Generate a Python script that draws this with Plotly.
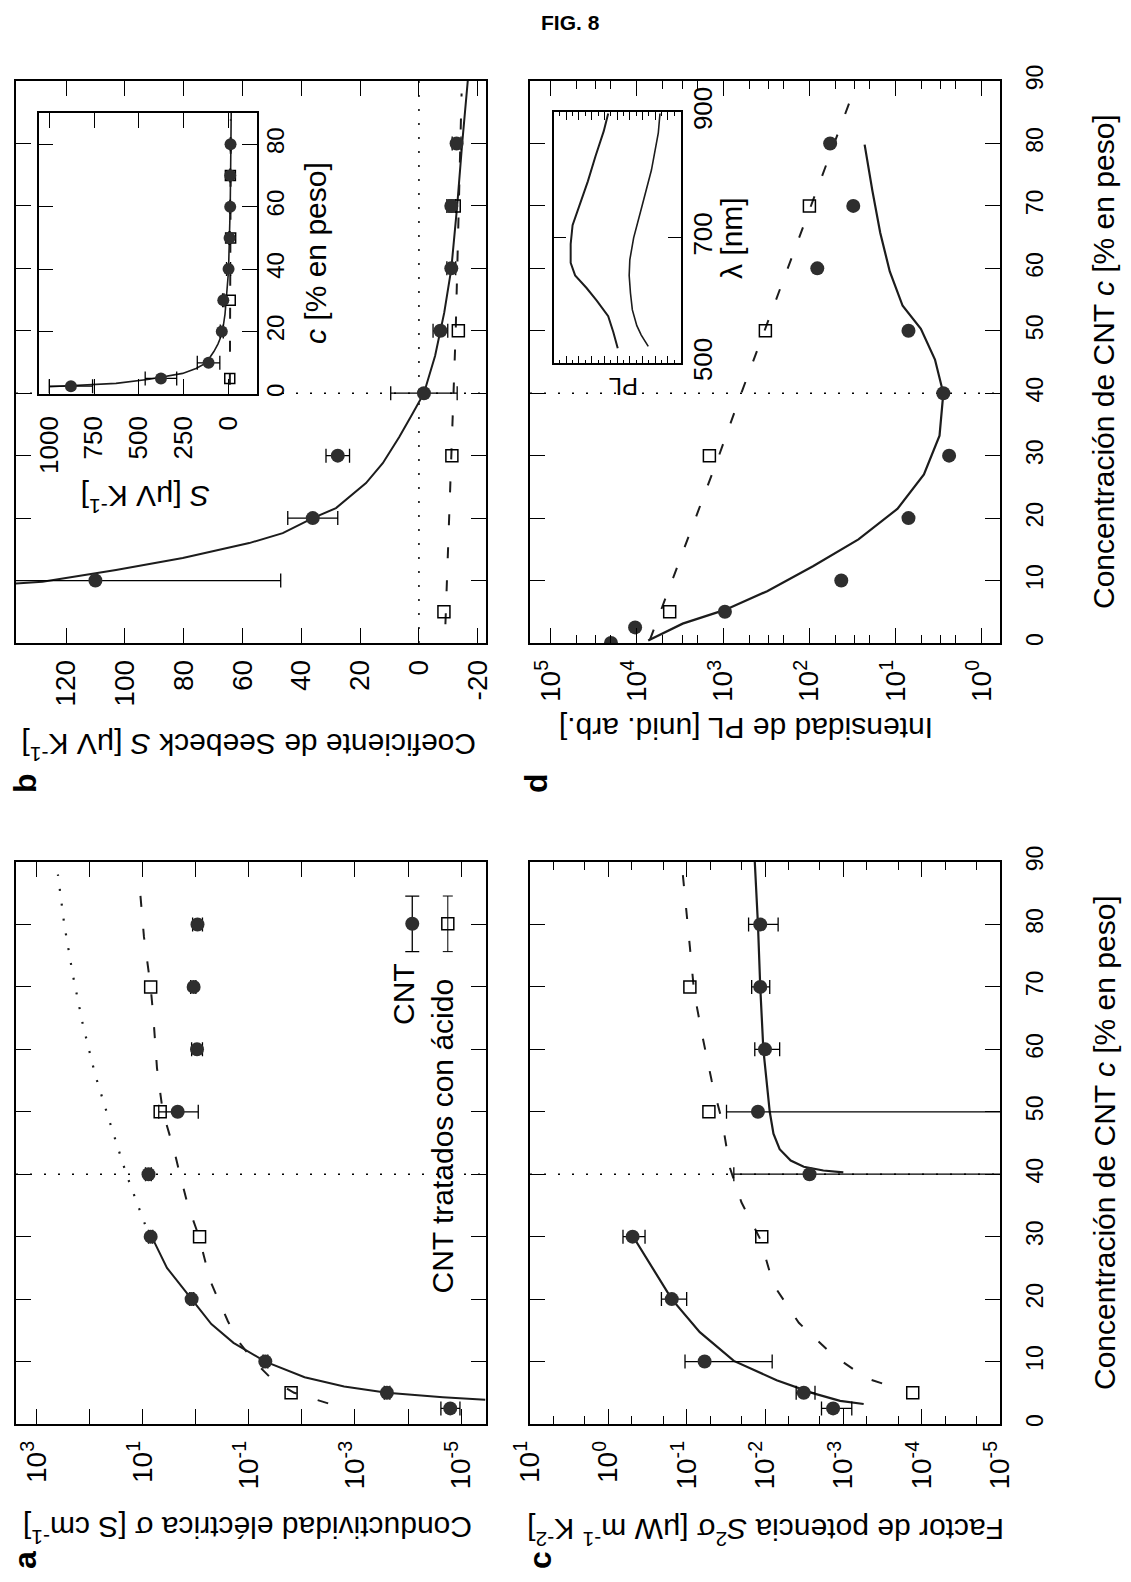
import plotly.graph_objects as go

W, H = 1131, 1582          # browser window
OFF = 8                    # default page (body) margin of the html page
FW, FH = W - OFF, H - OFF  # figure size so that it ends exactly at the window edge
FONT = "Liberation Sans, Arial, Helvetica, sans-serif"

# ------------------------------------------------------------------ data
conc_cnt = [2.5, 5, 10, 20, 30, 40, 50, 60, 70, 80]
conc_acid = [5, 30, 50, 70]

# (a) conductividad electrica [S/cm]
sigma_cnt = [1.6e-5, 2.5e-4, 4.9e-2, 1.2, 7.1, 7.8, 2.2, 0.95, 1.1, 0.93]
sigma_cnt_lo = [1.05e-5, 2.2e-4, 4.4e-2, 1.1, 6.5, 6.9, 0.9, 0.75, 1.0, 0.75]
sigma_cnt_hi = [2.4e-5, 2.8e-4, 5.4e-2, 1.3, 7.8, 8.9, 5.0, 1.2, 1.25, 1.15]
sigma_acid = [1.6e-2, 0.85, 4.7, 7.1]
sigma_fit_c = [3.9, 4.3, 5, 6, 7.5, 10, 13, 16, 20, 25, 30]
sigma_fit = [3.5e-6, 2.2e-5, 2.5e-4, 1.6e-3, 8.9e-3, 4.9e-2, 0.195, 0.51, 1.2, 3.5, 6.8]
sigma_acid_fit_c = [3.3, 5, 7, 10, 13, 16.5, 20, 23, 30, 35, 40, 44, 50, 57, 65, 70, 78, 87]
sigma_acid_fit = [3.2e-3, 1.4e-2, 3.5e-2, 7.9e-2, 0.15, 0.25, 0.38, 0.54, 0.87, 1.41,
                  2.0, 2.6, 4.2, 5.4, 6.3, 7.1, 9.5, 11.7]
sigma_dot_c = [32, 40, 48, 56, 64, 72, 80, 88]
sigma_dot = [9.1, 20.4, 40.7, 79.4, 135, 209, 302, 398]

# (b) coeficiente de Seebeck [uV/K]
seebeck_cnt = [879, 376, 110, 36.1, 27.6, -1.7, -7.3, -11.0, -11.0, -12.8]
seebeck_err = [121, 88, 63, 8.5, 4, 11.3, 2.5, 1.5, 1.5, 1.5]
seebeck_acid = [-8.5, -11.2, -13.4, -12.0]
seebeck_fit_c = [2.3, 2.9, 3.4, 4.7, 6.6, 8.2, 9.8, 11.7, 13.6, 16.0, 17.6, 20.0, 21.6,
                 25.6, 28.8, 33.0, 36.8, 40, 46, 52.9, 59.9, 70, 80, 90]
seebeck_fit = [1000, 758, 627, 441, 255, 180, 128, 103, 80.3, 57.7, 46.3, 36.1, 28.2,
               18.0, 12.3, 6.7, 2.1, -1.7, -5.5, -8.6, -11, -13, -14.7, -16.6]
seebeck_acid_fit_c = [3, 30, 50, 88]
seebeck_acid_fit = [-9, -11, -12.5, -14.5]

# (c) factor de potencia [uW m-1 K-2]
pf_cnt = [1.35e-3, 3.2e-3, 5.9e-2, 0.155, 0.49, 2.7e-3, 1.23e-2, 1.0e-2, 1.15e-2, 1.15e-2]
pf_cnt_lo = [7.8e-4, 2.3e-3, 8.1e-3, 0.10, 0.34, 1e-9, 1e-9, 6.5e-3, 8.7e-3, 6.8e-3]
pf_cnt_hi = [1.9e-3, 4.0e-3, 0.105, 0.21, 0.65, 2.5e-2, 3.1e-2, 1.35e-2, 1.48e-2, 1.62e-2]
pf_acid = [1.3e-4, 1.1e-2, 5.2e-2, 9.1e-2]
pf_fit1_c = [3.2, 3.7, 4.9, 7, 10.1, 14.7, 20, 26.3, 30.5]
pf_fit1 = [5.5e-4, 1.1e-3, 2.4e-3, 7.1e-3, 2.5e-2, 6.8e-2, 0.155, 0.32, 0.51]
pf_fit2_c = [40.3, 40.6, 41.2, 42.2, 44, 46.5, 50, 55, 60, 70, 80, 90]
pf_fit2 = [1.0e-3, 1.8e-3, 3.2e-3, 4.7e-3, 6.5e-3, 7.8e-3, 8.7e-3, 9.5e-3, 1.05e-2,
           1.15e-2, 1.23e-2, 1.35e-2]
pf_acid_fit_c = [6.5, 7.3, 11, 16.2, 22.3, 29.6, 35.5, 41, 48.3, 55, 61.7, 69, 76.4, 83.7, 88]
pf_acid_fit = [3.2e-4, 5.0e-4, 1.35e-3, 3.7e-3, 7.8e-3, 1.15e-2, 2.0e-2, 2.8e-2, 3.5e-2,
               4.8e-2, 6.2e-2, 8.0e-2, 9.1e-2, 0.105, 0.112]

# (d) intensidad de PL [unid. arb.]
conc_pl = [0, 2.5, 5, 10, 20, 30, 40, 50, 60, 70, 80]
pl_cnt = [2.0e4, 1.05e4, 955, 42.7, 7.1, 2.4, 2.8, 7.1, 81, 31, 57.5]
pl_acid = [4170, 1445, 324, 100]
pl_fit_c = [0.4, 3.1, 5.3, 8.3, 12.3, 16.6, 21.5, 27, 33.2, 40, 45.4, 50.3, 54, 59.5,
            65.7, 72.4, 79.8]
pl_fit = [7400, 2950, 955, 309, 91, 27, 9.5, 4.7, 3.1, 2.8, 3.5, 5.1, 8.3, 11.7, 15.1, 18.6, 22.9]
pl_acid_fit_c = [0.5, 10, 20, 30, 40, 50, 60, 70, 80, 87.5]
pl_acid_fit = [7080, 3890, 2090, 1120, 617, 331, 178, 95.5, 51.3, 32.4]

# inset (d): espectros PL
lam_1 = [524, 550, 575, 600, 620, 640, 660, 690, 720, 750, 790, 830, 870, 898]
pl_spec_1 = [4.95, 5.3, 5.7, 6.6, 7.4, 8.3, 8.65, 8.65, 8.5, 8.0, 7.3, 6.7, 6.05, 5.7]
lam_2 = [527, 545, 560, 585, 612, 640, 665, 700, 750, 808, 867, 898]
pl_spec_2 = [2.55, 3.1, 3.45, 3.8, 3.95, 4.05, 4.0, 3.7, 3.05, 2.3, 1.76, 1.63]

# tick labels
seebeck_ticks = [-20, 0, 20, 40, 60, 80, 100, 120]
inset_s_ticks = [0, 250, 500, 750, 1000]
conc_ticks = [0, 10, 20, 30, 40, 50, 60, 70, 80, 90]
inset_c_ticks = [0, 20, 40, 60, 80]
lam_ticks = [500, 700, 900]

# ------------------------------------------------------------------ geometry (window px)
BOX = {
    'b': (16, 486, 81, 643),
    'd': (530, 1000, 81, 643),
    'a': (16, 486, 862, 1424),
    'c': (530, 1000, 862, 1424),
    'bi': (38.7, 256.7, 113, 394),
    'di': (553.5, 680.7, 112.3, 363.3),
}
AX = {'b': ('x', 'y'), 'd': ('x2', 'y2'), 'a': ('x3', 'y3'), 'c': ('x4', 'y4'),
      'bi': ('x5', 'y5'), 'di': ('x6', 'y6')}


def fx(px):
    return (px - OFF) / FW


def fy(py):
    return 1 - (py - OFF) / FH


fig = go.Figure()
DOT_FILL = '#2e2e2e'
LINE_C = '#1c1c1c'


def ln(p, xv, yv, dash='solid', width=2.0):
    xa, ya = AX[p]
    fig.add_trace(go.Scatter(x=xv, y=yv, xaxis=xa, yaxis=ya, mode='lines',
                             line=dict(color=LINE_C, width=width, dash=dash),
                             hoverinfo='skip'))


def pts(p, xv, yv, filled=True, plus=None, minus=None, size=None):
    xa, ya = AX[p]
    kw = {}
    if plus is not None:
        kw['error_x'] = dict(type='data', symmetric=False, array=plus, arrayminus=minus,
                             color='black', thickness=1.3, width=7)
    if filled:
        mk = dict(symbol='circle', size=size or 14, color=DOT_FILL)
    else:
        mk = dict(symbol='square-open', size=size or 12, color='black', line=dict(width=1.5))
    fig.add_trace(go.Scatter(x=xv, y=yv, xaxis=xa, yaxis=ya, mode='markers', marker=mk, **kw))


def errs(v, lo, hi):
    return [h - x for x, h in zip(v, hi)], [x - l for x, l in zip(v, lo)]

# ---------------- panel a
ln('a', sigma_dot, sigma_dot_c, dash='2px,13px', width=2.2)
ln('a', sigma_acid_fit, sigma_acid_fit_c, dash='11px,22px')
ln('a', sigma_fit, sigma_fit_c)
pa, ma = errs(sigma_cnt, sigma_cnt_lo, sigma_cnt_hi)
pts('a', sigma_acid, conc_acid, filled=False)
pts('a', sigma_cnt, conc_cnt, plus=pa, minus=ma)
# legend samples (panel a)
LEG_C = [80.1]
fig.add_trace(go.Scatter(x=[10 ** -4.08], y=LEG_C, xaxis='x3', yaxis='y3', mode='markers',
                         marker=dict(symbol='circle', size=14, color=DOT_FILL),
                         error_y=dict(type='constant', value=4.45, color='black', thickness=1.3, width=7)))
fig.add_trace(go.Scatter(x=[10 ** -4.75], y=LEG_C, xaxis='x3', yaxis='y3', mode='markers',
                         marker=dict(symbol='square-open', size=12, color='black', line=dict(width=1.5)),
                         error_y=dict(type='constant', value=4.45, color='black', thickness=1.0, width=5)))

# ---------------- panel b (+ inset)
for p in ('b', 'bi'):
    ln(p, seebeck_acid_fit, seebeck_acid_fit_c, dash='11px,22px')
    ln(p, seebeck_fit, seebeck_fit_c, width=2.0 if p == 'b' else 1.6)
    pts(p, seebeck_acid, conc_acid, filled=False, size=12 if p == 'b' else 10)
    pts(p, seebeck_cnt, conc_cnt, plus=seebeck_err, minus=seebeck_err, size=14 if p == 'b' else 12)

# ---------------- panel c
ln('c', pf_acid_fit, pf_acid_fit_c, dash='11px,22px')
ln('c', pf_fit1, pf_fit1_c, width=2.2)
ln('c', pf_fit2, pf_fit2_c, width=2.2)
pc, mc = errs(pf_cnt, pf_cnt_lo, pf_cnt_hi)
pts('c', pf_acid, conc_acid, filled=False)
pts('c', pf_cnt, conc_cnt, plus=pc, minus=mc)

# ---------------- panel d (+ inset)
ln('d', pl_acid_fit, pl_acid_fit_c, dash='11px,22px')
ln('d', pl_fit, pl_fit_c, width=2.2)
pts('d', pl_acid, conc_acid, filled=False)
pts('d', pl_cnt, conc_pl)
ln('di', pl_spec_1, lam_1, width=2.0)
ln('di', pl_spec_2, lam_2, width=1.6)

# ------------------------------------------------------------------ axes
lay = {}


def sup(k):
    return '10<sup>%d</sup>' % k


def vax(p, rng, typ, tv, tt, size, standoff, ticklen=15, minor=None, labels=True, dtick=None):
    b = BOX[p]
    xa, ya = AX[p]
    name = 'xaxis' + xa[1:]
    d = dict(domain=[fx(b[0]), fx(b[1])], anchor=ya, type=typ, range=rng, autorange=False,
             ticks='inside', ticklen=ticklen, tickwidth=1.3, tickcolor='black',
             showline=True, linewidth=1.5, linecolor='black', mirror='ticks',
             showgrid=False, zeroline=False, side='bottom', tickangle=-90,
             showticklabels=labels, ticklabelstandoff=standoff, automargin=False,
             tickfont=dict(family=FONT, size=size, color='black'))
    if tv is not None:
        d.update(tickmode='array', tickvals=tv, ticktext=tt)
    else:
        d.update(tickmode='linear', tick0=0, dtick=dtick)
    if minor:
        d['minor'] = minor
    lay[name] = d


def cax(p, rng, tv, tt, size, standoff, ticklen=15, labels=True):
    b = BOX[p]
    xa, ya = AX[p]
    name = 'yaxis' + ya[1:]
    lay[name] = dict(domain=[fy(b[3]), fy(b[2])], anchor=xa, range=rng, autorange=False,
                     tickmode='array', tickvals=tv, ticktext=tt,
                     ticks='inside', ticklen=ticklen, tickwidth=1.3, tickcolor='black',
                     showline=True, linewidth=1.5, linecolor='black', mirror='ticks',
                     showgrid=False, zeroline=False, side='right', tickangle=-90,
                     showticklabels=labels, ticklabelstandoff=standoff, automargin=False,
                     tickfont=dict(family=FONT, size=size, color='black'))


def minor_log(vals, ticklen=8):
    return dict(tickmode='array', tickvals=vals, ticks='inside', ticklen=ticklen,
                tickwidth=1.1, tickcolor='black')

conc_txt = [str(v) for v in conc_ticks]
VSO = 4    # standoff of the value-axis labels
CSO = 14   # standoff of the concentration labels
# b
vax('b', [137, -22.8], 'linear', seebeck_ticks, [str(v) for v in seebeck_ticks], 28, VSO)
cax('b', [0, 90], conc_ticks, conc_txt, 23, CSO, labels=False)
# d
dec_d = list(range(0, 6))
vax('d', [5.24, -0.21], 'log', [10 ** k for k in dec_d], [sup(k) for k in dec_d], 28, VSO,
    minor=minor_log([m * 10 ** k for k in range(-1, 6) for m in (2, 3, 5)]))
cax('d', [0, 90], conc_ticks, conc_txt, 23, CSO)
# a  (labels every second decade, plain ticks on the others)
dec_a = [-5, -3, -1, 1, 3]
vax('a', [3.39, -5.47], 'log', [10 ** k for k in dec_a], [sup(k) for k in dec_a], 28, VSO,
    minor=minor_log([10 ** k for k in (-4, -2, 0, 2)], ticklen=15))
cax('a', [0, 90], conc_ticks, conc_txt, 23, CSO, labels=False)
# c
dec_c = list(range(-5, 2))
vax('c', [1, -5], 'log', [10 ** k for k in dec_c], [sup(k) for k in dec_c], 28, VSO,
    minor=minor_log([m * 10 ** k for k in range(-5, 1) for m in (2, 5)]))
cax('c', [0, 90], conc_ticks, conc_txt, 23, CSO)
# inset b
vax('bi', [1059, -159], 'linear', inset_s_ticks, [str(v) for v in inset_s_ticks], 26, 10)
cax('bi', [0, 90], inset_c_ticks, [str(v) for v in inset_c_ticks], 24, -3)
# inset d
vax('di', [10, 0], 'linear', None, None, 20, 4, ticklen=8, labels=False, dtick=1,
    minor=dict(dtick=0.5, ticks='inside', ticklen=4, tickcolor='black'))
cax('di', [500, 900], lam_ticks, [str(v) for v in lam_ticks], 26, -2, ticklen=13)

fig.update_layout(**lay)

# ------------------------------------------------------------------ reference lines
DOT = dict(color='black', width=1.5, dash='2px,12px')
shapes = []
for p in ('b', 'd', 'a', 'c', 'bi'):
    xa, ya = AX[p]
    shapes.append(dict(type='line', xref=xa + ' domain', yref=ya, x0=0, x1=1, y0=40, y1=40,
                       line=DOT, layer='below'))
shapes.append(dict(type='line', xref='x', yref='y domain', x0=0, x1=0, y0=0, y1=1,
                   line=DOT, layer='below'))
fig.update_layout(shapes=shapes)

# ------------------------------------------------------------------ text


def ann(text, x, y, size, angle, bold=False, xanchor='center', yanchor='middle'):
    if bold:
        text = '<b>%s</b>' % text
    if angle == -90:
        x -= 4
    fig.add_annotation(text=text, x=fx(x), y=fy(y), xref='paper', yref='paper',
                       showarrow=False, textangle=angle, xanchor=xanchor, yanchor=yanchor,
                       font=dict(family=FONT, size=size, color='black'))

ann('FIG. 8', 570, 22, 21, 0, bold=True)
ann('Coeficiente de Seebeck <i>S</i> [μV K<sup>-1</sup>]', 249, 747, 30, 180)
ann('Intensidad de PL [unid. arb.]', 746, 728, 30, 180)
ann('Conductividad eléctrica σ [S cm<sup>-1</sup>]', 248, 1530, 30, 180)
ann('Factor de potencia <i>S</i><sup>2</sup>σ [μW m<sup>-1</sup> K<sup>-2</sup>]', 765, 1532, 30, 180)
ann('Concentración de CNT <i>c</i> [% en peso]', 1108, 362, 30, -90)
ann('Concentración de CNT <i>c</i> [% en peso]', 1108, 1143, 30, -90)
ann('b', 29, 783, 32, -90, bold=True)
ann('d', 540, 783, 32, -90, bold=True)
ann('a', 29, 1560, 32, -90, bold=True)
ann('c', 544, 1560, 32, -90, bold=True)
ann('<i>S</i> [μV K<sup>-1</sup>]', 146, 499, 30, 180)
ann('<i>c</i> [% en peso]', 320, 253, 30, -90)
ann('λ [nm]', 735, 238, 30, -90)
ann('PL', 624, 387, 24, 180)
ann('CNT', 407, 961, 30, -90, yanchor='top')
ann('CNT tratados con ácido', 446, 977, 30, -90, yanchor='top')

fig.update_layout(width=FW, height=FH,
                  margin=dict(l=0, r=0, t=0, b=0, pad=0, autoexpand=False),
                  paper_bgcolor='white', plot_bgcolor='white', showlegend=False)

fig.write_html('out.html')
